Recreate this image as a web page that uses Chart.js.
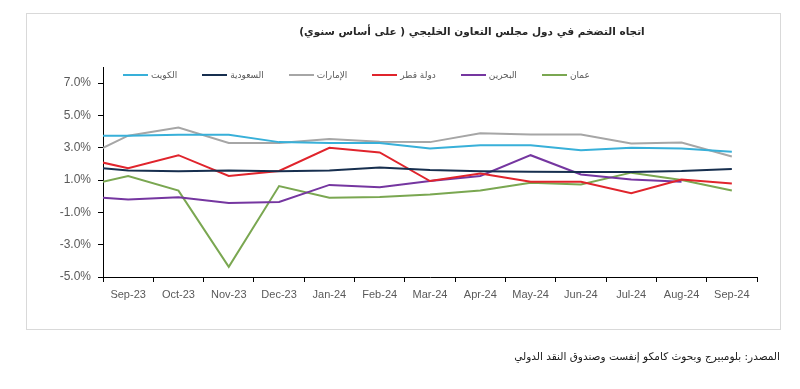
<!DOCTYPE html>
<html>
<head>
<meta charset="utf-8">
<script src="https://cdn.jsdelivr.net/npm/chart.js@4.4.1/dist/chart.umd.min.js"></script>
<style>
  html, body { margin: 0; padding: 0; background: #fff; }
  body { width: 800px; height: 389px; position: relative; overflow: hidden; font-family: "DejaVu Sans", sans-serif; }
  #frame { position: absolute; left: 26px; top: 13px; width: 753px; height: 315px; border: 1px solid #d9d9d9; }
  #chart { position: absolute; left: 0; top: 0; }
  #title { position: absolute; left: 472px; top: 25px; transform: translateX(-50%); font-weight: bold; font-size: 10.5px; color: #262626; white-space: nowrap; direction: rtl; }
  #legend { position: absolute; left: 123px; top: 70px; display: flex; direction: ltr; }
  .item { display: flex; align-items: center; margin-right: 25px; font-size: 9px; color: #595959; white-space: nowrap; }
  .item span.key { display: inline-block; width: 25px; height: 2px; margin-right: 3px; }
  #source { position: absolute; right: 20px; top: 350px; font-size: 10.5px; color: #1a1a1a; direction: rtl; white-space: nowrap; }
</style>
</head>
<body>
<div id="frame"></div>
<canvas id="chart" width="800" height="389"></canvas>
<div id="title">اتجاه التضخم في دول مجلس التعاون الخليجي ( على أساس سنوي)</div>
<div id="legend"></div>
<div id="source">المصدر: بلومبيرج وبحوث كامكو إنفست وصندوق النقد الدولي</div>
<script>
// first label sits left of the axis, only its line segment shows
const months = ["Aug-23", "Sep-23", "Oct-23", "Nov-23", "Dec-23", "Jan-24", "Feb-24", "Mar-24", "Apr-24", "May-24", "Jun-24", "Jul-24", "Aug-24", "Sep-24"];

const kuwait  = [3.75, 3.75, 3.8, 3.8, 3.35, 3.3, 3.3, 2.95, 3.15, 3.15, 2.85, 3.0, 2.95, 2.75];
const saudi   = [1.86, 1.6, 1.55, 1.6, 1.55, 1.6, 1.78, 1.62, 1.55, 1.52, 1.5, 1.5, 1.56, 1.69];
const uae     = [2.25, 3.75, 4.25, 3.3, 3.3, 3.55, 3.38, 3.35, 3.9, 3.82, 3.82, 3.27, 3.33, 2.46];
const qatar   = [2.43, 1.73, 2.54, 1.25, 1.56, 3.0, 2.71, 0.94, 1.4, 0.9, 0.9, 0.19, 1.04, 0.79];
const bahrain = [0.0, -0.2, -0.06, -0.42, -0.35, 0.7, 0.56, 0.94, 1.25, 2.54, 1.35, 1.04, 0.9, null];
const oman    = [0.55, 1.25, 0.35, -4.37, 0.63, -0.1, -0.04, 0.1, 0.35, 0.83, 0.73, 1.46, 1.0, 0.35];

const names = ["الكويت", "السعودية", "الإمارات", "دولة قطر", "البحرين", "عمان"];
const colors = ["#38b0d9", "#172f4f", "#a6a6a6", "#e0242c", "#7536a0", "#7aa751"];
const yTicks = [-5, -3, -1, 1, 3, 5, 7];

const series = [kuwait, saudi, uae, qatar, bahrain, oman];

const legend = document.getElementById("legend");
names.forEach((n, i) => {
    const item = document.createElement("div");
    item.className = "item";
    item.innerHTML = `<span class="key" style="background:${colors[i]}"></span><span>${n}</span>`;
    legend.appendChild(item);
});

const tickFont = { family: "Liberation Sans", size: 11 };

new Chart(document.getElementById("chart"), {
    type: "line",
    data: {
        labels: months,
        datasets: series.map((d, i) => ({
            label: names[i],
            data: d,
            borderColor: colors[i],
            backgroundColor: colors[i],
            borderWidth: 2,
            pointRadius: 0,
            tension: 0,
            fill: false,
        })),
    },
    options: {
        responsive: false,
        animation: false,
        events: [],
        layout: { padding: { left: 43, right: 43, top: 67, bottom: 82 } },
        plugins: {
            legend: { display: false },
            tooltip: { enabled: false },
        },
        scales: {
            x: {
                min: "Sep-23",
                offset: true,
                grid: { offset: true, drawOnChartArea: false, tickLength: 5, color: "#000" },
                border: { color: "#000", width: 1 },
                ticks: { color: "#595959", font: tickFont, padding: 6, maxRotation: 0, autoSkip: false },
                afterFit: (s) => { s.height = 30; },
            },
            y: {
                min: -5,
                max: 8,
                afterBuildTicks: (s) => { s.ticks = yTicks.map((v) => ({ value: v })); },
                grid: { drawOnChartArea: false, tickLength: 5, color: "#000" },
                border: { color: "#000", width: 1 },
                ticks: { color: "#595959", font: { family: "Liberation Sans", size: 12 }, padding: 7, callback: (v) => v.toFixed(1) + "%" },
                afterFit: (s) => { s.width = 60; },
            },
        },
    },
});
</script>
</body>
</html>
